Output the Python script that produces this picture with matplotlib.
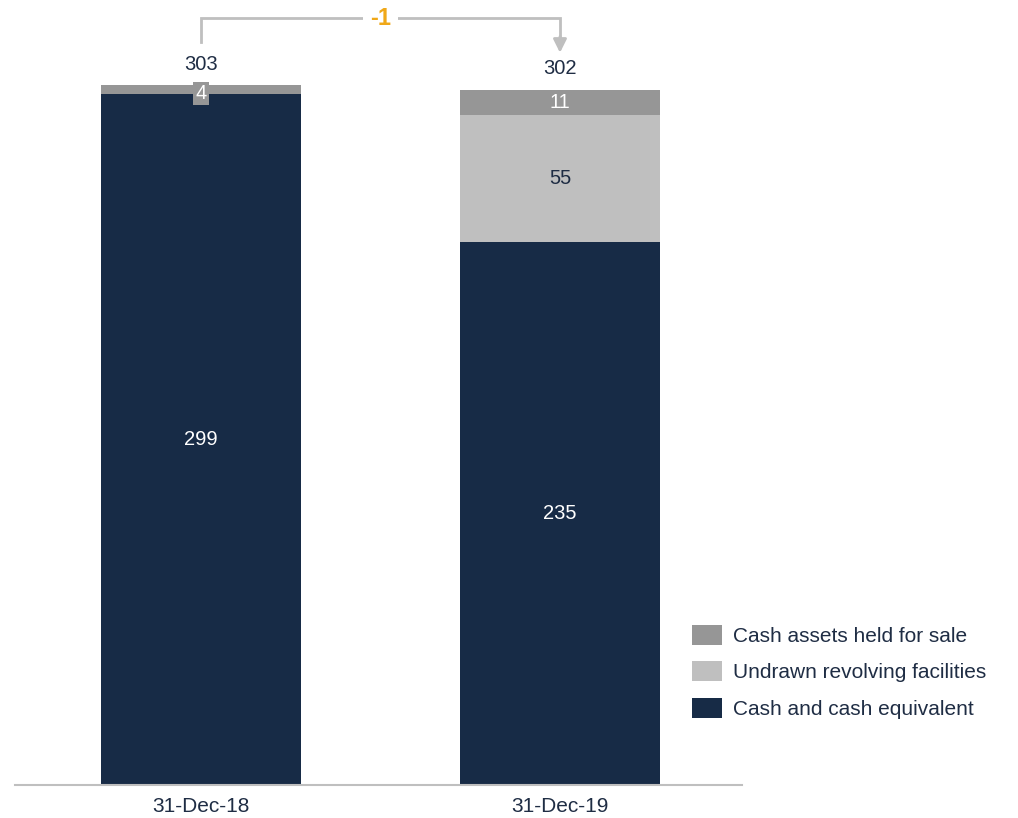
import matplotlib.pyplot as plt
import numpy as np

plt.rcParams['font.family'] = ['Liberation Sans', 'DejaVu Sans']

dates = ['31-Dec-18', '31-Dec-19']
cash_equiv = [299, 235]
undrawn_rcf = [0, 55]
held_for_sale = [4, 11]
totals = [303, 302]
change = -1

navy = '#172b46'
text_col = '#1f2d44'
light_grey = '#bfbfbf'
dark_grey = '#969696'
orange = '#f0a818'

fig = plt.figure(figsize=(10.18, 8.18), dpi=100)
ax = fig.add_axes([15 / 1018, 33 / 818, 727 / 1018, 785 / 818])

x = np.arange(len(dates))
w = 0.557
cash = np.array(cash_equiv)
rcf = np.array(undrawn_rcf)
hfs = np.array(held_for_sale)
stack_top = cash + rcf + hfs

ax.bar(x, cash, w, color=navy, label='Cash and cash equivalent')
ax.bar(x, rcf, w, bottom=cash, color=light_grey, label='Undrawn revolving facilities')
ax.bar(x, hfs, w, bottom=cash + rcf, color=dark_grey, label='Cash assets held for sale')

# segment labels
fs = 14.5
for i in range(len(x)):
    ax.text(x[i], cash[i] / 2, str(cash[i]), ha='center', va='center',
            color='white', fontsize=fs)
    if rcf[i] > 0:
        ax.text(x[i], cash[i] + rcf[i] / 2, str(rcf[i]), ha='center', va='center',
                color=text_col, fontsize=fs)
    top = cash[i] + rcf[i]
    if hfs[i] > 8:
        ax.text(x[i], top + hfs[i] / 2, str(hfs[i]), ha='center', va='center',
                color='white', fontsize=fs)
    else:
        ax.text(x[i], top + hfs[i] / 2 - 1.5, str(hfs[i]), ha='center', va='center',
                color='white', fontsize=fs,
                bbox=dict(boxstyle='square,pad=0.1', fc=dark_grey, ec='none'))
    ax.text(x[i], stack_top[i] + 5, str(totals[i]), ha='center', va='bottom',
            color=text_col, fontsize=fs)

# change bracket between the two totals
ytop = 332
ax.plot([x[0], x[0], x[1], x[1]], [321.5, ytop, ytop, 323],
        color=light_grey, lw=2, clip_on=False, solid_joinstyle='miter')
ax.annotate('', xy=(x[1], 317), xytext=(x[1], 324),
            arrowprops=dict(arrowstyle='-|>,head_width=0.4,head_length=0.8',
                            color=light_grey, lw=2, shrinkA=0, shrinkB=0))
ax.text((x[0] + x[1]) / 2, ytop, str(change), ha='center', va='center',
        color=orange, fontsize=17, fontweight='bold',
        bbox=dict(boxstyle='square,pad=0.3', fc='white', ec='none'))

ax.set_xlim(-0.518, 1.507)
ax.set_ylim(0, 785 / 2.31)
ax.set_xticks(x)
ax.set_xticklabels(dates, fontsize=15, color=text_col)
ax.tick_params(axis='x', length=0, pad=9)
ax.set_yticks([])
for s in ['top', 'right', 'left']:
    ax.spines[s].set_visible(False)
ax.spines['bottom'].set_color(light_grey)
ax.spines['bottom'].set_linewidth(1.5)

h, l = ax.get_legend_handles_labels()
fig.legend(h[::-1], l[::-1], loc='upper left', bbox_to_anchor=(673 / 1018, 1 - 606 / 818),
           frameon=False, fontsize=15, labelcolor=text_col, handlelength=1.45,
           handleheight=1.1, handletextpad=0.55, labelspacing=0.74)

fig.savefig('out.png', dpi=100)
